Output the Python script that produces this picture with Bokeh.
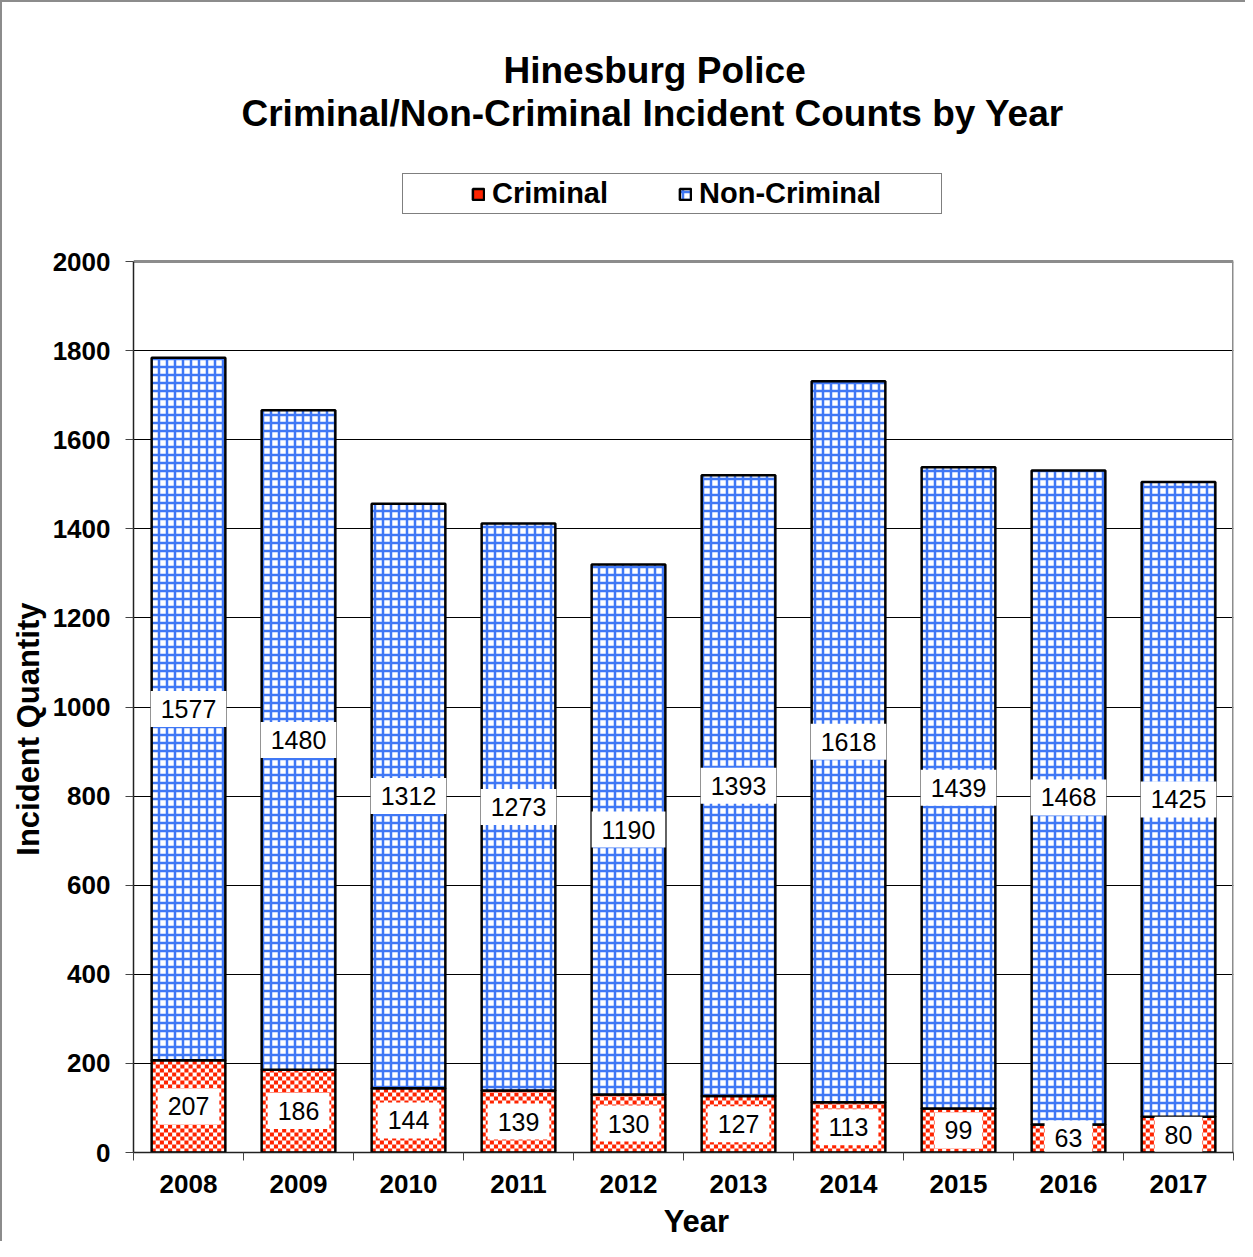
import math
from bokeh.plotting import figure
from bokeh.models import (ColumnDataSource, FixedTicker, Legend, LegendItem, Title, Range1d)
from bokeh.core.properties import value
from bokeh.embed import file_html
from bokeh.resources import INLINE

# ---- data ----
years = ["2008", "2009", "2010", "2011", "2012", "2013", "2014", "2015", "2016", "2017"]
criminal = [207, 186, 144, 139, 130, 127, 113, 99, 63, 80]
non_criminal = [1577, 1480, 1312, 1273, 1190, 1393, 1618, 1439, 1468, 1425]
y_ticks = [0, 200, 400, 600, 800, 1000, 1200, 1400, 1600, 1800, 2000]

FONT = "Liberation Sans"
RED = "#FF2400"
BLUE = "#4078F5"
BAR_W = 0.67
NBSP = "\u00a0"

# layout sizes (px): plot box, plus a zone above it that holds the legend
PLOT_PX = 891
LEGEND_ZONE_PX = 128
y_top = y_ticks[-1] * (PLOT_PX + LEGEND_ZONE_PX) / PLOT_PX

n = len(years)
xs = [i + 0.5 for i in range(n)]
tops = [c + nc for c, nc in zip(criminal, non_criminal)]
src = ColumnDataSource(dict(
    x=xs, crim=criminal, nc=non_criminal, top=tops,
    crim_mid=[c / 2 for c in criminal],
    nc_mid=[c + nc / 2 for c, nc in zip(criminal, non_criminal)],
    crim_lbl=[str(v) for v in criminal], nc_lbl=[str(v) for v in non_criminal],
))

# checkerboard fill for the criminal segments (cells of ~4 px), derived from the data
COLS = 18
cell_w = BAR_W / COLS
cell_h = 4 * y_ticks[-1] / PLOT_PX
ck = dict(left=[], right=[], bottom=[], top=[])
for x, c in zip(xs, criminal):
    for r in range(math.ceil(c / cell_h)):
        for col in range(COLS):
            if (r + col) % 2 == 0:
                l = x - BAR_W / 2 + col * cell_w
                ck["left"].append(l)
                ck["right"].append(l + cell_w)
                ck["bottom"].append(r * cell_h)
                ck["top"].append(min((r + 1) * cell_h, c))

p = figure(output_backend="svg", toolbar_location=None,
           x_range=Range1d(0, n), y_range=Range1d(y_ticks[0], y_top),
           frame_width=1100, frame_height=PLOT_PX + LEGEND_ZONE_PX,
           min_border_left=131, min_border_top=0, min_border_right=12, min_border_bottom=0)
p.styles = {"border-left": "2px solid #8c8c8c", "border-top": "2px solid #8c8c8c"}
p.outline_line_color = None

# plot-area border (top and right, grey)
p.segment(x0=[0, n], y0=[y_ticks[-1], 0], x1=[n, n], y1=[y_ticks[-1], y_ticks[-1]],
          line_color="#8c8c8c", line_width=3)

p.vbar(x="x", bottom=0, top="crim", width=BAR_W, source=src,
       fill_color="white", line_color=None)
r_ck = p.quad(left="left", right="right", bottom="bottom", top="top",
              source=ColumnDataSource(ck), fill_color=RED, line_color=None)
r_crim = p.vbar(x="x", bottom=0, top="crim", width=BAR_W, source=src,
                fill_color=None, line_color="black", line_width=2.5)
r_nc = p.vbar(x="x", bottom="crim", top="top", width=BAR_W, source=src,
              fill_color="white", line_color="black", line_width=2.5,
              hatch_pattern="cross", hatch_color=BLUE, hatch_weight=2.5, hatch_scale=8)

lbl_kw = dict(text_align="center", text_baseline="middle", text_font=value(FONT),
              text_font_size="25px", text_color="black", background_fill_color="white",
              padding=(10, 9))
p.text(x="x", y="crim_mid", text="crim_lbl", source=src, **lbl_kw)
p.text(x="x", y="nc_mid", text="nc_lbl", source=src, **lbl_kw)

# axes
p.xgrid.visible = False
p.ygrid.ticker = FixedTicker(ticks=y_ticks[1:-1])
p.ygrid.grid_line_color = "black"
p.ygrid.grid_line_width = 1

xa = p.xaxis[0]
xa.ticker = FixedTicker(ticks=xs, minor_ticks=list(range(n + 1)))
xa.major_label_overrides = {x: y for x, y in zip(xs, years)}
xa.major_tick_out = 0
xa.major_tick_in = 0
xa.minor_tick_out = 8
xa.minor_tick_in = 0
xa.minor_tick_line_color = "#444444"
xa.major_label_standoff = 14
xa.axis_label = NBSP * 3 + "Year"
xa.axis_label_standoff = 8

ya = p.yaxis[0]
ya.ticker = FixedTicker(ticks=y_ticks)
ya.bounds = (y_ticks[0], y_ticks[-1])
ya.minor_tick_line_color = None
ya.major_tick_out = 8
ya.major_tick_in = 0
ya.major_label_standoff = 15
# trailing no-break spaces keep the title centred on the plot box rather than the legend zone
ya.axis_label = "Incident Quantity" + NBSP * 20
ya.axis_label_standoff = 4

for ax in (xa, ya):
    ax.axis_line_color = "#222222"
    ax.axis_line_width = 1.5
    ax.major_tick_line_color = "#444444"
    ax.major_label_text_font = FONT
    ax.major_label_text_font_size = "26px"
    ax.major_label_text_font_style = "bold"
    ax.major_label_text_color = "black"
    ax.axis_label_text_font = FONT
    ax.axis_label_text_font_size = "31px"
    ax.axis_label_text_font_style = "bold"
    ax.axis_label_text_color = "black"

legend = Legend(items=[LegendItem(label="Criminal", renderers=[r_ck, r_crim]),
                       LegendItem(label="Non-Criminal" + NBSP * 7, renderers=[r_nc])],
                orientation="horizontal", location=(269, 938),
                padding=3, spacing=70, label_standoff=7, label_width=20,
                glyph_width=14, glyph_height=14,
                title=" ", title_location="left", title_standoff=64, title_text_font_size="1px",
                label_text_font=FONT, label_text_font_size="29px", label_text_font_style="bold",
                label_text_color="black", border_line_color="black", border_line_width=1,
                background_fill_alpha=1, margin=0)
p.add_layout(legend, "center")

p.add_layout(Title(text="Criminal/Non-Criminal Incident Counts by Year", align="left", offset=108,
                   text_font=FONT, text_font_size="37px", text_font_style="bold",
                   text_color="black", standoff=0), "above")
p.add_layout(Title(text="Hinesburg Police", align="left", offset=370,
                   text_font=FONT, text_font_size="37px", text_font_style="bold",
                   text_color="black", standoff=0), "above")
p.add_layout(Title(text=" ", text_font_size="30px"), "above")

open("out.html", "w").write(file_html(p, INLINE))
